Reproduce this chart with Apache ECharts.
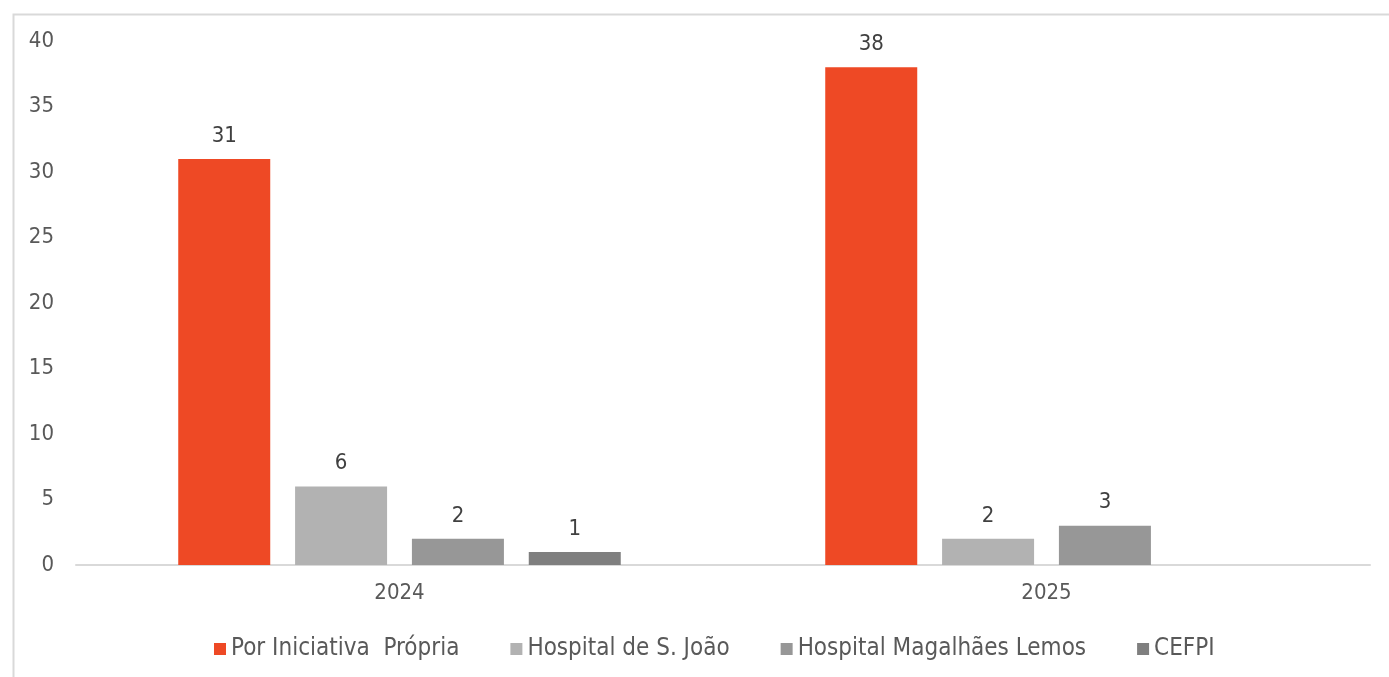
<!DOCTYPE html>
<html>
<head>
<meta charset="utf-8">
<script src="https://cdn.jsdelivr.net/npm/echarts@6/dist/echarts.min.js"></script>
<style>
html,body{margin:0;padding:0;background:#fff;}
#chart{width:1389px;height:677px;}
</style>
</head>
<body>
<div id="chart"></div>
<script>
const categories = ['2024', '2025'];
const seriesNames = ['Por Iniciativa  Própria', 'Hospital de S. João', 'Hospital Magalhães Lemos', 'CEFPI'];
const porIniciativa = [31, 38];
const hospitalSJoao = [6, 2];
const hospitalMagalhaes = [2, 3];
const cefpi = [1, null];
const yTicks = [0, 5, 10, 15, 20, 25, 30, 35, 40];

const colors = ['#EE4925', '#B2B2B2', '#979797', '#7F7F7F'];
const FONT = '"DejaVu Sans Condensed", "DejaVu Sans", sans-serif';
const FS = 22;
const values = [porIniciativa, hospitalSJoao, hospitalMagalhaes, cefpi];

const chart = echarts.init(document.getElementById('chart'));
chart.setOption({
  animation: false,
  textStyle: { fontFamily: FONT },
  graphic: [{
    type: 'rect', left: 11, top: 12,
    shape: { width: 1420, height: 720 },
    style: { fill: 'none', stroke: '#D9D9D9', lineWidth: 2 },
    silent: true, z: -1
  }],
  grid: { left: 76, right: 19, top: 41, bottom: 112, containLabel: false },
  legend: {
    top: 632,
    left: 209,
    itemWidth: 12, itemHeight: 12, itemGap: 51,
    icon: 'rect',
    textStyle: { fontFamily: FONT, fontSize: 24, color: '#595959' },
    data: seriesNames
  },
  xAxis: {
    type: 'category',
    data: categories,
    axisLine: { lineStyle: { color: '#D9D9D9', width: 2 } },
    axisTick: { show: false },
    axisLabel: { fontFamily: FONT, fontSize: FS, color: '#595959', margin: 17 }
  },
  yAxis: {
    type: 'value',
    min: yTicks[0], max: yTicks[yTicks.length - 1], interval: 5,
    splitLine: { show: false },
    axisLine: { show: false },
    axisTick: { show: false },
    axisLabel: { fontFamily: FONT, fontSize: FS, color: '#595959', margin: 22, padding: [4, 0, 0, 0] }
  },
  series: seriesNames.map((name, i) => ({
    name: name,
    type: 'bar',
    data: values[i],
    barWidth: 92,
    barGap: '27%',
    itemStyle: { color: colors[i] },
    label: {
      show: true, position: 'top', distance: 12,
      fontFamily: FONT, fontSize: FS, color: '#404040'
    }
  }))
});
</script>
</body>
</html>
